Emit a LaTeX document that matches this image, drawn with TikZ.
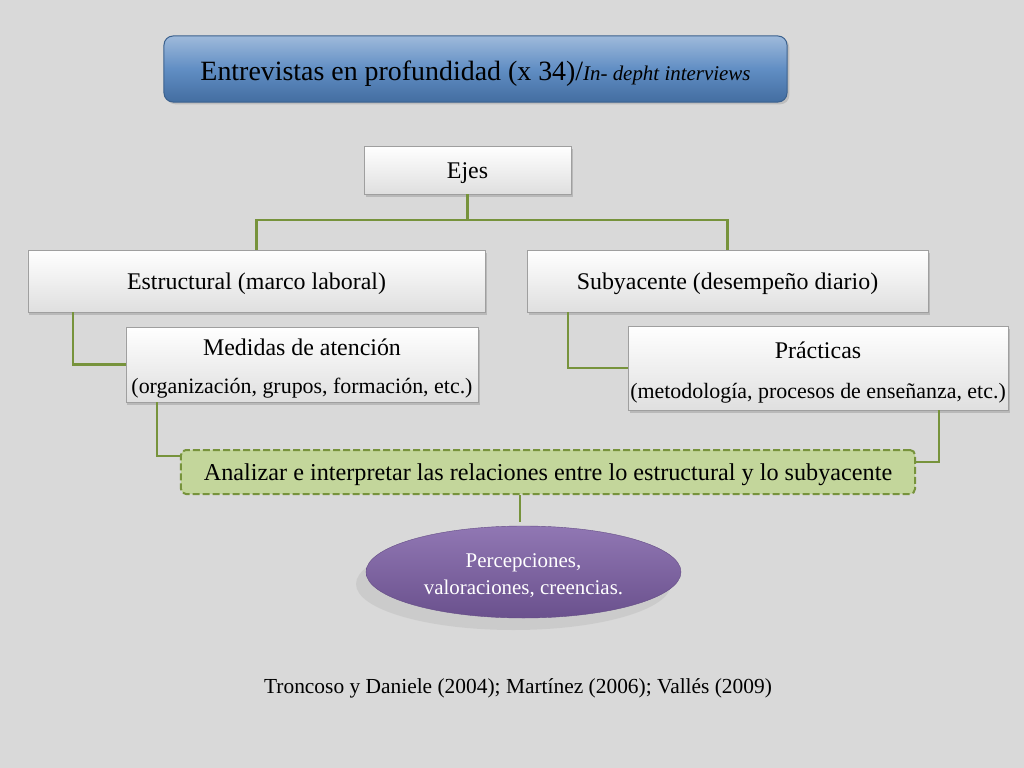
\documentclass[tikz,border=0pt]{standalone}
\usepackage{fontspec}
\setmainfont{Liberation Serif}
\usetikzlibrary{positioning,shapes.geometric,shadows}
\definecolor{bggray}{HTML}{D9D9D9}
\definecolor{linegreen}{HTML}{77933C}
\definecolor{boxgreen}{HTML}{C3D69B}
\definecolor{titleblue}{HTML}{4F81BD}
\definecolor{ovalpurple}{HTML}{7D5FA6}

\tikzset{
  axisbox/.style={rectangle, draw=gray!75, top color=white, bottom color=gray!25,
    drop shadow={opacity=0.35, shadow xshift=1.5bp, shadow yshift=-2.5bp},
    font=\fontsize{24}{28}\selectfont, align=center, inner sep=0pt},
  oneline/.style={text height=22bp, text depth=4.5bp},
  link/.style={draw=linegreen, line width=2.5bp},
}

\begin{document}
\begin{tikzpicture}[x=1bp,y=-1bp]
    \fill[bggray] (0,0) rectangle (1024,768);

    % title
    \node[rounded corners=9bp, draw=titleblue!75!black, line width=1bp,
          top color=titleblue!55!white, bottom color=titleblue!85!black, middle color=titleblue!90!white,
          drop shadow={opacity=0.3}, minimum width=623bp, minimum height=66bp, inner sep=0pt,
          text height=30bp, text depth=6bp]
          (title) at (475.5,69)
          {\fontsize{28}{32}\selectfont Entrevistas en profundidad (x 34)/{\itshape\fontsize{21}{24}\selectfont In- depht interviews}};

    % axes
    \node[axisbox, oneline, minimum width=207bp, minimum height=48bp] (ejes) at (467.5,170) {Ejes};
    \node[axisbox, oneline, minimum width=457bp, minimum height=62bp] (estr) at (256.5,281) {Estructural (marco laboral)};
    \node[axisbox, oneline, minimum width=401bp, minimum height=62bp] (suby) at (727.5,281) {Subyacente (desempeño diario)};
    \node[axisbox, minimum width=352bp, minimum height=75bp] (medidas) at (302,364.5)
          {\rule{0pt}{25bp}Medidas de atención\\[10bp]\fontsize{22}{26}\selectfont (organización, grupos, formación, etc.)};
    \node[axisbox, minimum width=380bp, minimum height=84bp] (pract) at (818,368)
          {\rule{0pt}{25bp}Prácticas\\[12bp]\fontsize{22}{26}\selectfont (metodología, procesos de enseñanza, etc.)};

    % analysis
    \node[rectangle, rounded corners=5bp, draw=linegreen, dash pattern=on 7bp off 3bp, line width=2bp, fill=boxgreen,
          minimum width=734bp, minimum height=44bp, inner sep=0pt, font=\fontsize{24.3}{28}\selectfont, oneline]
          (analizar) at (548,472) {Analizar e interpretar las relaciones entre lo estructural y lo subyacente};

    \node[ellipse, draw=ovalpurple!80!black, top color=ovalpurple!85!white, bottom color=ovalpurple!85!black,
          drop shadow={opacity=0.15, shadow xshift=-10bp, shadow yshift=-12bp},
          minimum width=315bp, minimum height=92bp, inner sep=0pt, align=center,
          text=white, font=\fontsize{21}{27}\selectfont]
          (percep) at (523.5,572) {\rule{0pt}{22bp}Percepciones,\\valoraciones, creencias.};

    \node[font=\fontsize{21.5}{24}\selectfont] (refs) at (518,688)
          {Troncoso y Daniele (2004); Martínez (2006); Vallés (2009)};

    % connectors
    \draw[link] (ejes.south) -- ++(0,26) coordinate (fork);
    \draw[link] (fork) -| (estr.north);
    \draw[link] (fork) -| (suby.north);
    \draw[link] ([xshift=45bp]estr.south west) |- (medidas.west);
    \draw[link] ([xshift=41bp]suby.south west) |- (pract.west);
    \draw[link] ([xshift=31bp]medidas.south west) |- ([yshift=-7bp]analizar.north west);
    \draw[link] ([xshift=-69bp]pract.south east) |- ([yshift=-13bp]analizar.north east);
    \draw[link] ([xshift=-28bp]analizar.south) -- ++(0,27);
\end{tikzpicture}
\end{document}
